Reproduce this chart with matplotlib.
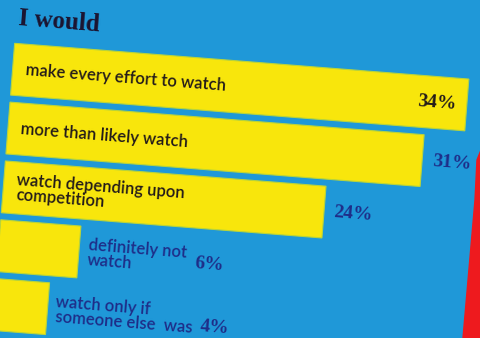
import numpy as np
import matplotlib.pyplot as plt
from matplotlib.transforms import Affine2D
from matplotlib.patches import Polygon

# survey answers: "I would ..."
labels = ["make every effort to watch",
          "more than likely watch",
          "watch depending upon\ncompetition",
          "definitely not\nwatch",
          "watch only if\nsomeone else  was"]
values = [34, 31, 24, 6, 4]
pct_text = ["34%", "31%", "24%", "6%", "4%"]

blue = "#1f98d8"
yellow = "#f8e60c"
dark = "#221a1a"
navy = "#1e2d88"

W, H = 481, 338
fig = plt.figure(figsize=(W / 100, H / 100), dpi=100)
fig.patch.set_facecolor(blue)
ax = fig.add_axes([0, 0, 1, 1])
ax.set_facecolor(blue)
ax.axis("off")

# scale: pixels per percent, pixel of the 0% edge, row layout
px = 13.4
x0 = 18
row_top, row_step = 68, 59
ax.set_xlim(-x0 / px, (W - x0) / px)
ax.set_ylim((H - row_top) / row_step, -row_top / row_step)

# the printed page is scanned slightly askew
angle = -4.5
rot = ax.transData + Affine2D().rotate_deg_around(0, H, angle)

y = np.arange(len(values))
bars = ax.barh(y, values, height=0.88, color=yellow, edgecolor="#b9d43a", linewidth=0.8)
for b in bars:
    b.set_transform(rot)

def t(x, yy, s, **kw):
    ax.text(x, yy, s, transform=rot, rotation=angle, rotation_mode="anchor", **kw)

t(0.12, -0.86, "I would", fontsize=18, fontweight="bold", family="Liberation Serif",
  color="#1b1430", ha="left", va="center")

lab_font = dict(family="Lato", fontsize=12, fontweight="semibold", va="center",
                ha="left", linespacing=0.92)
pct_font = dict(family="Liberation Serif", fontweight="bold", fontsize=14, va="center")

for i, (lab, v, p) in enumerate(zip(labels, values, pct_text)):
    if i < 3:
        t(13 / px, i, lab, color=dark, **lab_font)
    if i == 0:
        t(v - 10 / px, i, p, color=dark, ha="right", **pct_font)
    elif i < 3:
        t(v + 10 / px, i, p, color=navy, ha="left", **pct_font)

# short bars: label beside the bar, percentage after the label
t(values[3] + 9 / px, 3, labels[3], color=navy, **lab_font)
t(values[3] + 116 / px, 3.05, pct_text[3], color=navy, ha="left", **pct_font)
t(values[4] + 8 / px, 4, labels[4], color=navy, **lab_font)
t(values[4] + 154 / px, 4.1, pct_text[4], color=navy, ha="left", **pct_font)

# red page edge at the right
fig.patches.append(Polygon([[481, 188], [477, 178], [475, 138], [463, 0], [481, 0]],
                           closed=True, transform=None, color="#ee1a1e"))

fig.savefig("out.png", dpi=100, facecolor=blue)
